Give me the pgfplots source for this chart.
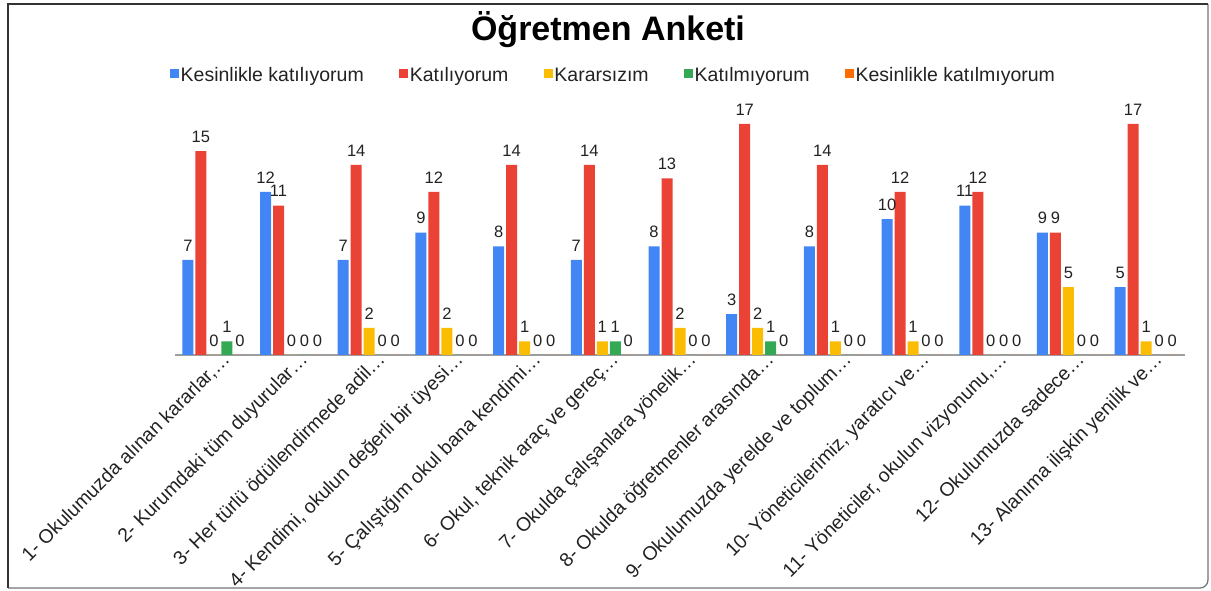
\documentclass[border=0pt]{standalone}
\usepackage{fontspec}
\setmainfont{Liberation Sans}
\usepackage{pgfplots}
\pgfplotsset{compat=1.18}
\usepackage{pgfplotstable}
\definecolor{cA}{HTML}{4285F4}
\definecolor{cB}{HTML}{EA4335}
\definecolor{cC}{HTML}{FBBC04}
\definecolor{cD}{HTML}{34A853}
\definecolor{cE}{HTML}{FF6D01}
\definecolor{axgray}{HTML}{9E9E9E}
\definecolor{txt}{HTML}{222222}
\pgfplotstableread{
x a b c d e
0 7 15 0 1 0
1 12 11 0 0 0
2 7 14 2 0 0
3 9 12 2 0 0
4 8 14 1 0 0
5 7 14 1 1 0
6 8 13 2 0 0
7 3 17 2 1 0
8 8 14 1 0 0
9 10 12 1 0 0
10 11 12 0 0 0
11 9 9 5 0 0
12 5 17 1 0 0
}\data
\begin{document}
\begin{tikzpicture}[x=1pt,y=1pt]
\path[use as bounding box] (0,0) rectangle (1211,591);
\draw[line width=1.2pt, draw=black!55, rounded corners=0pt] (1208,587) -- (1208,12) [rounded corners=8pt] -- (1208,3) -- (8,3);
\draw[line width=2pt, draw=black!80] (8,3) -- (8,587) -- (1208,587);
\node[font=\fontsize{34}{40}\selectfont\bfseries, text=black] at (608,561) {Öğretmen Anketi};
\begin{axis}[
  at={(175pt,236pt)}, anchor=south west,
  width=1010pt, height=244.6pt, scale only axis,
  xmin=-0.5, xmax=12.5, ymin=0, ymax=18,
  axis x line=bottom, axis y line=none,
  x axis line style={-, draw=axgray, line width=1.5pt},
  ytick=\empty,
  xtick={0,...,12},
  major tick length=0pt,
  xticklabels={{1- Okulumuzda alınan kararlar,…},{2- Kurumdaki tüm duyurular…},{3- Her türlü ödüllendirmede adil…},{4- Kendimi, okulun değerli bir üyesi…},{5- Çalıştığım okul bana kendimi…},{6- Okul, teknik araç ve gereç…},{7- Okulda çalışanlara yönelik…},{8- Okulda öğretmenler arasında…},{9- Okulumuzda yerelde ve toplum…},{10- Yöneticilerimiz, yaratıcı ve…},{11- Yöneticiler, okulun vizyonunu,…},{12- Okulumuzda sadece…},{13- Alanıma ilişkin yenilik ve…}},
  xticklabel style={rotate=45, anchor=north east, font=\fontsize{19.4}{22}\selectfont, text=txt, inner sep=2pt, xshift=10pt},
  ybar=2pt, bar width=11pt,
  clip=false,
  /pgf/number format/assume math mode=true,
  nodes near coords,
  every node near coord/.append style={font=\fontsize{16.5}{19}\selectfont, text=txt, inner sep=2.5pt, yshift=6pt},
  legend columns=5,
  legend image code/.code={\fill[#1] (0pt,-4.5pt) rectangle (9pt,4.5pt);},
  legend style={at={(0.434,1)}, anchor=center, yshift=36.4pt, draw=none, fill=none,
    font=\fontsize{19.5}{23}\selectfont, text=txt,
    /tikz/every even column/.append style={column sep=34pt},
    nodes={inner sep=1.5pt}},
]
\addplot[fill=cA, draw=none] table[x=x,y=a]{\data};
\addplot[fill=cB, draw=none] table[x=x,y=b]{\data};
\addplot[fill=cC, draw=none] table[x=x,y=c]{\data};
\addplot[fill=cD, draw=none] table[x=x,y=d]{\data};
\addplot[fill=cE, draw=none] table[x=x,y=e]{\data};
\legend{\strut Kesinlikle katılıyorum,\strut Katılıyorum,\strut Kararsızım,\strut Katılmıyorum,\strut Kesinlikle katılmıyorum}
\end{axis}
\end{tikzpicture}
\end{document}
